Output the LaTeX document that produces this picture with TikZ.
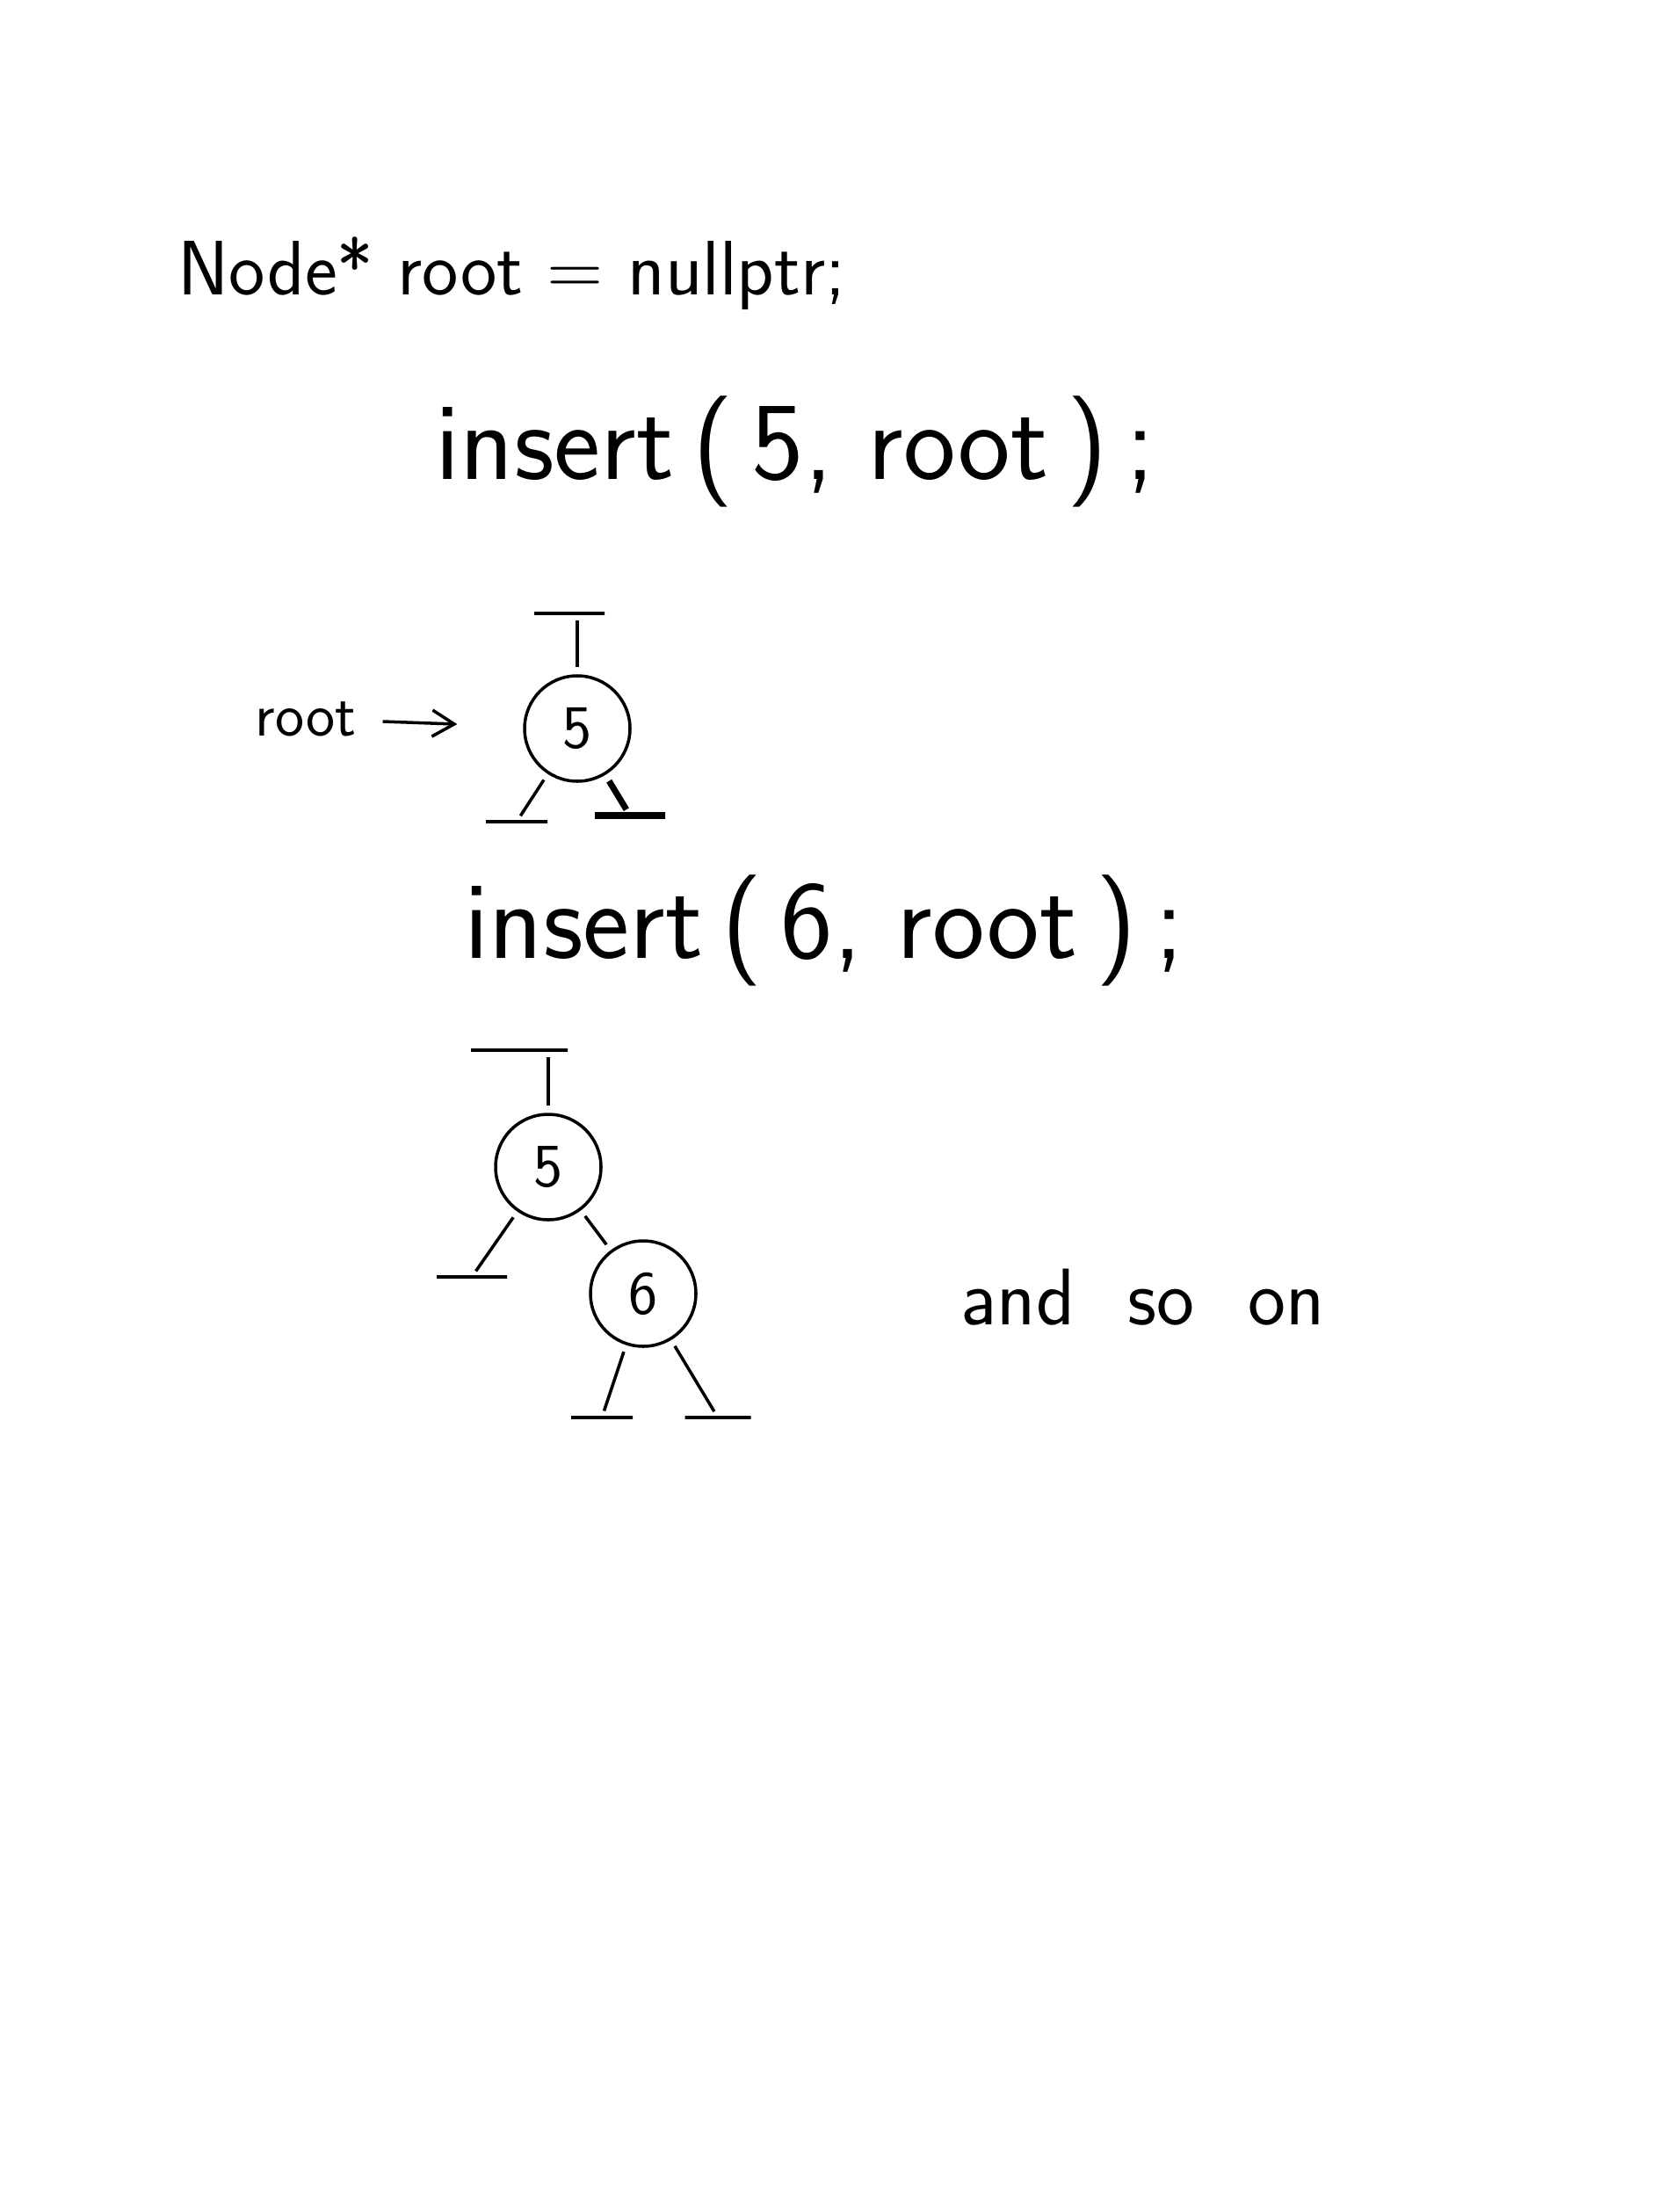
\documentclass[tikz,border=0pt]{standalone}
\usepackage{fontspec}
\usetikzlibrary{arrows.meta}

\tikzset{
  treenode/.style={circle,draw,line width=1pt,minimum size=1.2cm,inner sep=0pt,
    font=\sffamily\fontsize{20}{24}\selectfont},
  nullbar/.style={draw,line width=1pt,minimum width=#1,minimum height=0pt,
    inner sep=0pt,outer sep=0pt},
  nullbar/.default=0.75cm,
  link/.style={line width=1pt,shorten <=0.08cm,shorten >=0.08cm},
  codeline/.style={anchor=base west,inner sep=0pt,
    font=\sffamily\fontsize{#1}{#1}\selectfont}
}

\begin{document}
\begin{tikzpicture}[x=1cm,y=-1cm]
\useasboundingbox (0,0) rectangle (19.12,25);

% the code
\node[codeline=25] (decl) at (2.02,3.35) {Node* root = nullptr;};
\node[codeline=36] (ins5) at (4.95,5.45) {insert\,(\,5, root\,)\,;};
\node[codeline=36] (ins6) at (5.28,10.90) {insert\,(\,6, root\,)\,;};
\node[codeline=26] (more) at (10.93,15.07) {and\hspace{0.35em} so\hspace{0.35em} on};

% tree after the first insert
\node[treenode] (n5a) at (6.57,8.29) {5};
\node[nullbar=0.8cm] (ta) at (6.48,6.98) {};
\node[nullbar=0.7cm] (la) at (5.88,9.35) {};
\node[nullbar=0.8cm,line width=2pt] (ra) at (7.17,9.28) {};
\node[codeline=20] (rootlbl) at (2.90,8.37) {root};

\draw[link,-{Straight Barb[length=0.25cm,width=0.3cm]},shorten <=0.3cm,shorten >=0.75cm]
  (rootlbl) -- (n5a);
\draw[link] (n5a) -- (n5a |- ta);
\draw[link] (n5a) -- (la);
\draw[link,line width=2pt] (n5a) -- (ra);

% tree after the second insert
\node[treenode] (n5b) at (6.24,13.28) {5};
\node[treenode] (n6) at (7.32,14.72) {6};
\node[nullbar=1.1cm] (tb) at (5.91,11.95) {};
\node[nullbar=0.8cm] (lb) at (5.37,14.53) {};
\node[nullbar=0.7cm] (lc) at (6.85,16.13) {};
\node[nullbar=0.75cm] (rc) at (8.17,16.13) {};

\draw[link] (n5b) -- (n5b |- tb);
\draw[link] (n5b) -- (lb);
\draw[link] (n5b) -- (n6);
\draw[link] (n6) -- (lc);
\draw[link] (n6) -- (rc);

\end{tikzpicture}
\end{document}
